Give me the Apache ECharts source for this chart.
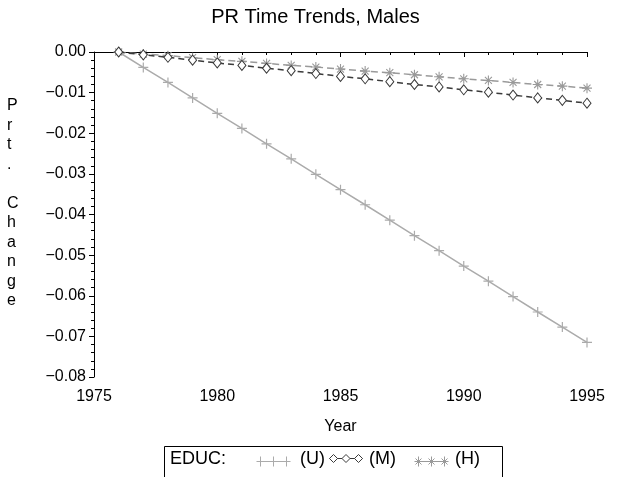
<!DOCTYPE html>
<html>
<head>
<meta charset="utf-8">
<script src="https://cdn.jsdelivr.net/npm/echarts@6/dist/echarts.min.js"></script>
<style>html,body{margin:0;padding:0;background:#fff}#c{width:631px;height:477px}</style>
</head>
<body>
<div id="c"></div>
<script>
var years = [1976,1977,1978,1979,1980,1981,1982,1983,1984,1985,1986,1987,1988,1989,1990,1991,1992,1993,1994,1995];
var valuesU = [0,-0.0038,-0.0075,-0.0113,-0.0151,-0.0188,-0.0226,-0.0263,-0.0301,-0.0339,-0.0376,-0.0414,-0.0452,-0.0489,-0.0527,-0.0564,-0.0602,-0.0640,-0.0677,-0.0715];
var valuesM = [0,-0.0007,-0.0013,-0.0020,-0.0027,-0.0033,-0.0040,-0.0046,-0.0053,-0.0060,-0.0066,-0.0073,-0.0080,-0.0086,-0.0093,-0.0099,-0.0106,-0.0113,-0.0119,-0.0126];
var valuesH = [0,-0.0005,-0.0009,-0.0014,-0.0019,-0.0023,-0.0028,-0.0033,-0.0037,-0.0042,-0.0047,-0.0051,-0.0056,-0.0061,-0.0066,-0.0070,-0.0075,-0.0080,-0.0084,-0.0089];
var xTicks = [1975,1980,1985,1990,1995];
var yTicks = [0,-0.01,-0.02,-0.03,-0.04,-0.05,-0.06,-0.07,-0.08];
var seriesNames = ['(U)','(M)','(H)'];
var legendTitle = 'EDUC:';
var chartTitle = 'PR Time Trends, Males';
var xName = 'Year';
var yNameChars = ['P','r','t','.','','C','h','a','n','g','e'];

function pairs(v){ return years.map(function(y,i){return [y,v[i]];}); }

var FONT = '"Liberation Sans", Arial, Helvetica, sans-serif';
var cU = '#ababab', cM = '#3a3a3a', cH = '#9a9a9a';
var plusPath = 'path://M0,5L10,5M5,0L5,10';
var starPath = 'path://M0,5L10,5M5,0L5,10M1.5,1.5L8.5,8.5M1.5,8.5L8.5,1.5';
var TS = 16, LS = 18;

var chart = echarts.init(document.getElementById('c'), null, {renderer:'canvas'});
var option = {
  animation: false,
  backgroundColor: '#fff',
  title: { text: chartTitle, left: 'center', top: 2,
    textStyle: { fontFamily: FONT, fontSize: 20, fontWeight: 'normal', color: '#000' } },
  grid: { left: 94, right: 44, top: 52, bottom: 100 },
  xAxis: {
    type: 'value', min: 1975, max: 1995, interval: 5,
    name: xName, nameLocation: 'middle', nameGap: 42,
    nameTextStyle: { fontFamily: FONT, fontSize: TS, color: '#000' },
    axisLine: { lineStyle: { color: '#000', width: 1 } },
    axisTick: { show: true, length: 5, inside: false, lineStyle: { color: '#000' } },
    minorTick: { show: true, splitNumber: 5, length: 3, lineStyle: { color: '#000' } },
    axisLabel: { fontFamily: FONT, fontSize: TS, color: '#000', margin: 12,
      formatter: function(v){ return xTicks.indexOf(v) >= 0 ? String(v) : ''; } },
    splitLine: { show: false }
  },
  yAxis: {
    type: 'value', min: -0.08, max: 0, interval: 0.01,
    axisLine: { show: true, lineStyle: { color: '#000', width: 1 } },
    axisTick: { show: true, length: 5, lineStyle: { color: '#000' } },
    minorTick: { show: true, splitNumber: 5, length: 3, lineStyle: { color: '#000' } },
    axisLabel: { fontFamily: FONT, fontSize: TS, color: '#000', margin: 8,
      formatter: function(v){
        var t = yTicks.reduce(function(a,b){ return Math.abs(b-v) < Math.abs(a-v) ? b : a; });
        var s = Math.abs(t).toFixed(2);
        return t < -1e-9 ? '\u2212' + s : s;
      } },
    splitLine: { show: false }
  },
  legend: { show: false },
  series: [
    { name: seriesNames[0], type: 'line', data: pairs(valuesU), z: 2,
      symbol: plusPath, symbolSize: 10,
      lineStyle: { color: cU, width: 1.5, type: 'solid' },
      itemStyle: { color: cU, borderColor: cU, borderWidth: 1.2 } },
    { name: seriesNames[2], type: 'line', data: pairs(valuesH), z: 3,
      symbol: starPath, symbolSize: 10,
      lineStyle: { color: cH, width: 1.5, type: [7,4] },
      itemStyle: { color: cH, borderColor: cH, borderWidth: 1.1 } },
    { name: seriesNames[1], type: 'line', data: pairs(valuesM), z: 4,
      symbol: 'diamond', symbolSize: [8,10],
      lineStyle: { color: cM, width: 1.5, type: [6,4] },
      itemStyle: { color: '#fff', borderColor: cM, borderWidth: 1 } }
  ],
  graphic: [
    { type: 'text', left: 7, top: 96,
      style: { text: yNameChars.join('\n'), fontFamily: FONT, fontSize: TS, lineHeight: 19.5,
        fill: '#000', align: 'center', width: 14 } },
    { type: 'rect', left: 162, top: 444, shape: { width: 338, height: 31 },
      style: { fill: 'none', stroke: '#000', lineWidth: 1 } },
    { type: 'text', left: 170, top: 450,
      style: { text: legendTitle, fontFamily: FONT, fontSize: LS, fill: '#000' } },
    { type: 'group', left: 254, top: 454, children: [
      { type: 'polyline', shape: { points: [[0,5],[34,5]] }, style: { stroke: cU, lineWidth: 1 } },
      { type: 'polyline', shape: { points: [[4,0],[4,10]] }, style: { stroke: cU, lineWidth: 1 } },
      { type: 'polyline', shape: { points: [[17,0],[17,10]] }, style: { stroke: cU, lineWidth: 1 } },
      { type: 'polyline', shape: { points: [[30,0],[30,10]] }, style: { stroke: cU, lineWidth: 1 } }
    ]},
    { type: 'text', left: 300, top: 450,
      style: { text: seriesNames[0], fontFamily: FONT, fontSize: LS, fill: '#000' } },
    { type: 'group', left: 327, top: 454, children: [
      { type: 'polyline', shape: { points: [[0,5],[33,5]] }, style: { stroke: cM, lineWidth: 1 } },
      { type: 'polygon', shape: { points: [[4,1],[8,5],[4,9],[0,5]] }, style: { fill: '#fff', stroke: cM, lineWidth: 1 } },
      { type: 'polygon', shape: { points: [[16.5,1],[20.5,5],[16.5,9],[12.5,5]] }, style: { fill: '#fff', stroke: cM, lineWidth: 1 } },
      { type: 'polygon', shape: { points: [[29,1],[33,5],[29,9],[25,5]] }, style: { fill: '#fff', stroke: cM, lineWidth: 1 } }
    ]},
    { type: 'text', left: 369, top: 450,
      style: { text: seriesNames[1], fontFamily: FONT, fontSize: LS, fill: '#000' } },
    { type: 'group', left: 412, top: 454, children: [
      { type: 'polyline', shape: { points: [[0,5],[34,5]] }, style: { stroke: cH, lineWidth: 1 } },
      { type: 'polyline', shape: { points: [[4,0],[4,10]] }, style: { stroke: cH, lineWidth: 1 } },
      { type: 'polyline', shape: { points: [[1,2],[7,8]] }, style: { stroke: cH, lineWidth: 1 } },
      { type: 'polyline', shape: { points: [[1,8],[7,2]] }, style: { stroke: cH, lineWidth: 1 } },
      { type: 'polyline', shape: { points: [[17,0],[17,10]] }, style: { stroke: cH, lineWidth: 1 } },
      { type: 'polyline', shape: { points: [[14,2],[20,8]] }, style: { stroke: cH, lineWidth: 1 } },
      { type: 'polyline', shape: { points: [[14,8],[20,2]] }, style: { stroke: cH, lineWidth: 1 } },
      { type: 'polyline', shape: { points: [[30,0],[30,10]] }, style: { stroke: cH, lineWidth: 1 } },
      { type: 'polyline', shape: { points: [[27,2],[33,8]] }, style: { stroke: cH, lineWidth: 1 } },
      { type: 'polyline', shape: { points: [[27,8],[33,2]] }, style: { stroke: cH, lineWidth: 1 } }
    ]},
    { type: 'text', left: 455, top: 450,
      style: { text: seriesNames[2], fontFamily: FONT, fontSize: LS, fill: '#000' } }
  ]
};
chart.setOption(option);
</script>
</body>
</html>
